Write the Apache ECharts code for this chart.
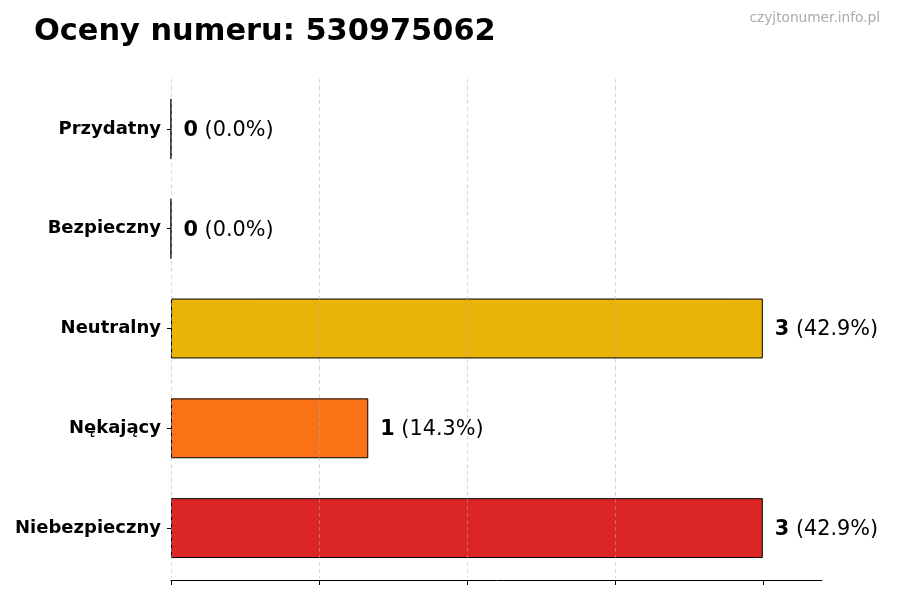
<!DOCTYPE html>
<html>
<head>
<meta charset="utf-8">
<script src="https://cdn.jsdelivr.net/npm/echarts@6/dist/echarts.min.js"></script>
<style>html,body{margin:0;padding:0;background:#fff}#c{width:900px;height:600px}</style>
</head>
<body>
<div id="c"></div>
<script>
const categories = ['Przydatny', 'Bezpieczny', 'Neutralny', 'Nękający', 'Niebezpieczny'];
const counts = [0, 0, 3, 1, 3];
const colors = ['#22c55e', '#3b82f6', '#eab308', '#f97316', '#dc2626'];
const xTicks = [0, 0.75, 1.5, 2.25, 3];
const titleText = 'Oceny numeru: 530975062';
const watermark = 'czyjtonumer.info.pl';

const total = counts.reduce((a, b) => a + b, 0);
const FONT = 'DejaVu Sans';
const chart = echarts.init(document.getElementById('c'), null, {renderer: 'canvas'});
chart.setOption({
  backgroundColor: '#fff',
  animation: false,
  title: {
    text: titleText, left: 34, top: 17, padding: 0,
    textStyle: {fontFamily: FONT, fontSize: 30.4, fontWeight: 'bold', color: '#000'}
  },
  graphic: [{
    type: 'text', right: 20, top: 11,
    style: {text: watermark, fontFamily: FONT, fontSize: 13.7, fill: '#aaaaaa'}
  }],
  grid: {left: 171, right: 78, top: 79, bottom: 22, containLabel: false},
  xAxis: {
    type: 'value', min: 0, max: 3.3, interval: 0.75, z: 5, offset: 2,
    axisLine: {show: true, lineStyle: {color: '#000', width: 1}},
    axisTick: {show: true, length: 5, customValues: xTicks, lineStyle: {color: '#000'}},
    axisLabel: {show: false},
    splitLine: {show: true, showMaxLine: false, lineStyle: {color: 'rgba(176,176,176,0.5)', type: [4, 3], width: 1}}
  },
  yAxis: {
    type: 'category', data: categories, inverse: true,
    axisLine: {show: false},
    axisTick: {show: true, alignWithLabel: true, length: 4, lineStyle: {color: '#000'}},
    axisLabel: {fontFamily: FONT, fontSize: 18, fontWeight: 'bold', color: '#000', margin: 10, padding: [3, 0, 0, 0]},
    splitLine: {show: false}
  },
  series: [{
    type: 'bar',
    barWidth: '60%',
    data: counts.map((v, i) => ({value: v, itemStyle: {color: colors[i]}})),
    itemStyle: {borderColor: '#000', borderWidth: 1},
    label: {
      show: true, position: 'right', distance: 12, offset: [0, 1.5],
      formatter: p => '{b|' + p.value + '}{n| (' + (total ? (p.value / total * 100) : 0).toFixed(1) + '%)}',
      rich: {
        b: {fontFamily: FONT, fontSize: 20.8, fontWeight: 'bold', color: '#000'},
        n: {fontFamily: FONT, fontSize: 20.8, color: '#000'}
      }
    }
  }]
});
</script>
</body>
</html>
